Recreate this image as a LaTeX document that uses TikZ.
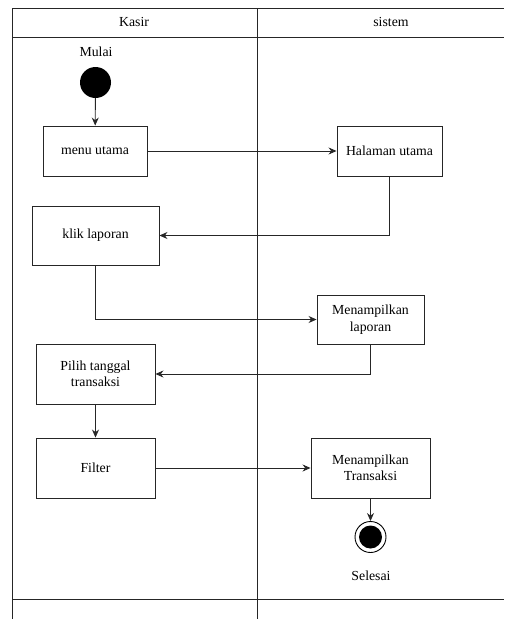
\documentclass[tikz,border=0pt]{standalone}
\usepackage{fontspec}
\setmainfont{Liberation Serif}
\usetikzlibrary{arrows.meta}
\begin{document}
\begin{tikzpicture}[x=1pt,y=-1pt,
  every node/.style={font=\fontsize{13.8}{16.5}\selectfont},
  lane/.style={line width=0.9pt,draw=black!85},
  act/.style={draw=black!85,line width=0.9pt,rectangle,align=center,inner sep=2pt},
  flow/.style={line width=0.9pt,draw=black!85,-{Stealth[length=8pt,width=7pt]}},
  startdot/.style={circle,fill=black,minimum size=31pt,inner sep=0pt},
  enddot/.style={circle,draw=black,line width=0.9pt,fill=white,minimum size=31pt,inner sep=0pt,
    path picture={\fill[black] (path picture bounding box.center) circle (11.5pt);}}
]
\useasboundingbox (0,0) rectangle (504,619);
\clip (0,0) rectangle (504,619);

% swimlane frame
\draw[lane] (12,8) -- (504,8);
\draw[lane] (12,37) -- (504,37);
\draw[lane] (12,599) -- (504,599);
\draw[lane] (12,8) -- (12,619);
\draw[lane] (257,8) -- (257,619);
\node (hkasir) at (134,22) {Kasir};
\node (hsistem) at (391,22) {sistem};

% start
\node (lmulai) at (96,52) {Mulai};
\node[startdot] (start) at (95.5,82.5) {};

% activities
\node[act,minimum width=104pt,minimum height=50pt] (menu) at (95,151) {menu utama};
\node[act,minimum width=105pt,minimum height=50pt] (halaman) at (389.5,151) {Halaman utama};
\node[act,minimum width=127pt,minimum height=59pt] (klik) at (95.5,235.5) {klik laporan};
\node[act,minimum width=107pt,minimum height=49pt] (mlap) at (370.5,319.5) {Menampilkan\\laporan};
\node[act,minimum width=119pt,minimum height=60pt] (pilih) at (95.5,374) {Pilih tanggal\\transaksi};
\node[act,minimum width=119pt,minimum height=60pt] (filter) at (95.5,468) {Filter};
\node[act,minimum width=119pt,minimum height=60pt] (mtrans) at (370.5,468) {Menampilkan\\Transaksi};

% end
\node[enddot] (end) at (370.5,537) {};
\node (lselesai) at (371,576) {Selesai};

% flows
\draw[flow] (start) -- (menu);
\draw[flow] (menu) -- (halaman);
\draw[flow] (halaman.south) |- (klik.east);
\draw[flow] (klik.south) |- (mlap.west);
\draw[flow] (mlap.south) |- (pilih.east);
\draw[flow] (pilih) -- (filter);
\draw[flow] (filter) -- (mtrans);
\draw[flow] (mtrans) -- (end);
\end{tikzpicture}
\end{document}
